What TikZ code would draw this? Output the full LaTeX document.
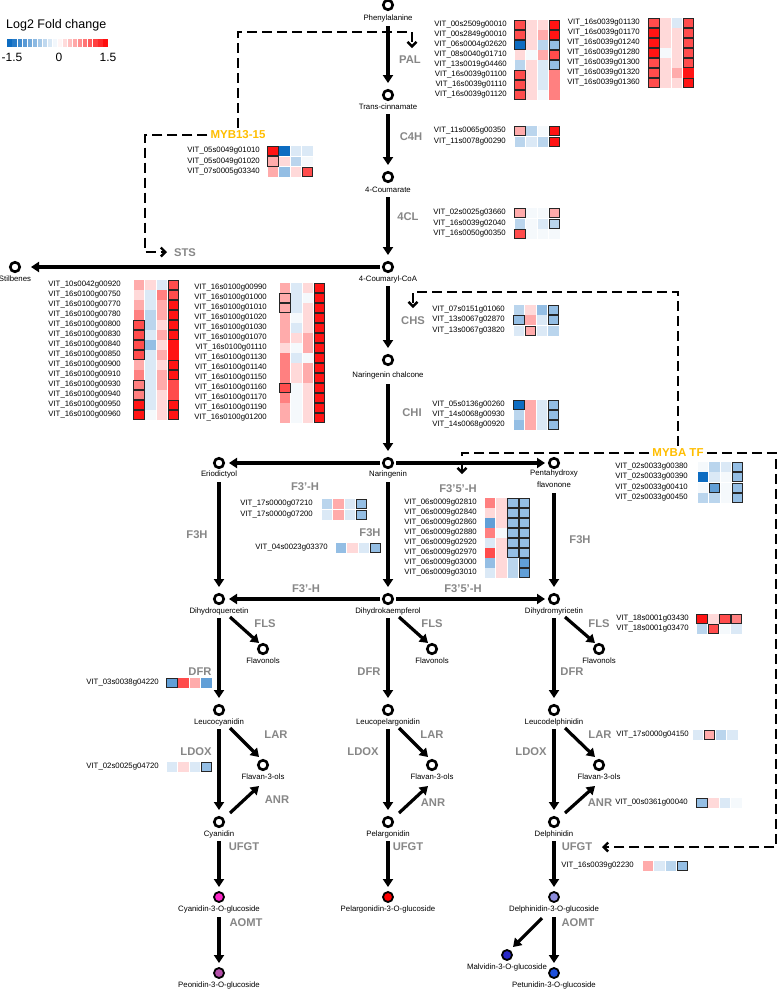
\documentclass[tikz,border=0pt]{standalone}
\usepackage{fontspec}
\setmainfont{Liberation Sans}
\usetikzlibrary{arrows.meta,calc}
\pgfdeclarelayer{bg}
\pgfsetlayers{bg,main}
\definecolor{blueb}{RGB}{0,100,190}
\colorlet{R3}{red!92!white}
\colorlet{R2}{red!70!white}
\colorlet{R1}{red!50!white}
\colorlet{R0}{red!33!white}
\colorlet{RL}{red!15!white}
\colorlet{W}{blueb!4!white}
\colorlet{BL}{blueb!14!white}
\colorlet{B0}{blueb!27!white}
\colorlet{B1}{blueb!42!white}
\colorlet{B2}{blueb!62!white}
\colorlet{B3}{blueb!95!white}
\definecolor{enzgray}{RGB}{135,135,135}
\definecolor{tforange}{RGB}{255,190,0}
\definecolor{cyacol}{RGB}{250,40,200}
\definecolor{peocol}{RGB}{180,80,170}
\definecolor{pelcol}{RGB}{255,0,0}
\definecolor{delcol}{RGB}{140,140,220}
\definecolor{malcol}{RGB}{40,40,200}
\definecolor{petcol}{RGB}{30,80,220}
\def\cw{11.6}
\newcommand\genrow[5]{%
  \node[gname] (g#4) at (#1,#3) {VIT\_#4};
  \foreach \cc/\oo [count=\ii from 0] in {#5}{%
    \fill[fill=\cc] (#2+\ii*\cw+0.6,#3-4.6) rectangle (#2+\ii*\cw+\cw-0.6,#3+4.6);}
  \foreach \cc/\oo [count=\ii from 0] in {#5}{%
    \ifnum\oo=1 \draw[cellbox] (#2+\ii*\cw+0.6,#3-4.6) rectangle (#2+\ii*\cw+\cw-0.6,#3+4.6);\fi}
}
\newcommand\cpd[5]{%
  \node[cnode] (#1) at (#2,#3) {};
  \node[clabel] (#1-l) at (#2,#3+#5) {#4};
}
\newcommand\glc[5]{%
  \node[gnode, fill=#5] (#1) at (#2,#3) {};
  \node[clabel] (#1-l) at (#2,#3+12) {#4};
}
\begin{document}
\begin{tikzpicture}[x=1pt,y=-1pt,
  gname/.style={font=\fontsize{7.8}{9}\selectfont, inner sep=0, anchor=east},
  clabel/.style={font=\fontsize{7.8}{9}\selectfont, inner sep=0},
  enz/.style={font=\bfseries\fontsize{11.2}{12}\selectfont, text=enzgray, inner sep=0},
  tf/.style={font=\bfseries\fontsize{11.5}{12}\selectfont, text=tforange, inner sep=3pt},
  legt/.style={font=\fontsize{12}{13}\selectfont, inner sep=0},
  cnode/.style={circle, draw=black, line width=2.6pt, fill=white, minimum size=9.5pt, inner sep=0},
  gnode/.style={circle, draw=black, line width=1.8pt, minimum size=10pt, inner sep=0},
  cellbox/.style={draw=black!85, line width=0.9pt},
  arr/.style={line width=3.2pt, -{Triangle[length=8pt,width=10pt]}},
  darr/.style={line width=2.4pt, dash pattern=on 10pt off 5pt, -{Straight Barb[length=4.5pt,width=9pt]}}]
\useasboundingbox (0,0) rectangle (778,989);
\begin{pgfonlayer}{bg}
\fill[white] (0,0) rectangle (778,989);
\end{pgfonlayer}

% ---------- legend
\node[font=\fontsize{12.5}{14}\selectfont, anchor=west, inner sep=0] (leg) at (6,25) {Log2 Fold change};
\foreach \i in {0,...,19}{%
  \pgfmathsetmacro\v{((\i+0.5)/20)*2-1}
  \pgfmathtruncatemacro\p{abs(\v)*100}
  \ifdim\v pt<0pt
    \fill[blueb!\p!white] (7+\i*5.05+0.4,39) rectangle (7+\i*5.05+5.05-0.4,47);
  \else
    \fill[red!\p!white] (7+\i*5.05+0.4,39) rectangle (7+\i*5.05+5.05-0.4,47);
  \fi
}
\node[legt] (lg1) at (12,57) {-1.5};
\node[legt] (lg2) at (59,57) {0};
\node[legt] (lg3) at (108,57) {1.5};

% ---------- compounds
\cpd{phe}{388}{5}{Phenylalanine}{13}
\cpd{tc}{388}{95}{Trans-cinnamate}{12}
\cpd{cou}{388}{177}{4-Coumarate}{13}
\cpd{coa}{388}{267}{4-Coumaryl-CoA}{12}
\cpd{stil}{15}{267}{Stilbenes}{12}
\cpd{nch}{388}{360}{Naringenin chalcone}{15}
\cpd{nar}{388}{463}{Naringenin}{11.5}
\cpd{erio}{219}{463}{Eriodictyol}{11.5}
\node[cnode] (penta) at (554,463) {};
\node[clabel, align=center, font=\fontsize{7.8}{12}\selectfont] (penta-l) at (554,479) {Pentahydroxy\\flavonone};
\cpd{dq}{219}{599}{Dihydroquercetin}{12}
\cpd{dk}{388}{599}{Dihydrokaempferol}{12}
\cpd{dm}{554}{599}{Dihydromyricetin}{12}
\cpd{fla}{263}{649}{Flavonols}{12}
\cpd{flb}{432}{649}{Flavonols}{12}
\cpd{flc}{599}{649}{Flavonols}{12}
\cpd{lc}{219}{710}{Leucocyanidin}{12}
\cpd{lp}{388}{710}{Leucopelargonidin}{12}
\cpd{ld}{554}{710}{Leucodelphinidin}{12}
\cpd{fta}{263}{765}{Flavan-3-ols}{12}
\cpd{ftb}{432}{765}{Flavan-3-ols}{12}
\cpd{ftc}{599}{765}{Flavan-3-ols}{12}
\cpd{cy}{219}{822}{Cyanidin}{12}
\cpd{pe}{388}{822}{Pelargonidin}{12}
\cpd{de}{554}{822}{Delphinidin}{12}
\glc{cyg}{219}{897}{Cyanidin-3-O-glucoside}{cyacol}
\glc{peg}{388}{897}{Pelargonidin-3-O-glucoside}{pelcol}
\glc{deg}{554}{897}{Delphinidin-3-O-glucoside}{delcol}
\glc{peo}{219}{973}{Peonidin-3-O-glucoside}{peocol}
\glc{mal}{507}{955}{Malvidin-3-O-glucoside}{malcol}
\glc{pet}{554}{973}{Petunidin-3-O-glucoside}{petcol}

% ---------- enzyme labels
\node[enz] (e-pal) at (410,60) {PAL};
\node[enz] (e-c4h) at (411,137) {C4H};
\node[enz] (e-4cl) at (408,217) {4CL};
\node[enz] (e-sts) at (185,253) {STS};
\node[enz] (e-chs) at (413,321) {CHS};
\node[enz] (e-chi) at (412,413) {CHI};
\node[enz] (e-f3ha) at (305,487) {F3'-H};
\node[enz] (e-f35a) at (458,489) {F3'5'-H};
\node[enz] (e-f3hl) at (197,535) {F3H};
\node[enz] (e-f3hm) at (370,533) {F3H};
\node[enz] (e-f3hr) at (580,540) {F3H};
\node[enz] (e-f3hb) at (306,589) {F3'-H};
\node[enz] (e-f35b) at (463,589) {F3'5'-H};
\node[enz] (e-flsa) at (265,624) {FLS};
\node[enz] (e-flsb) at (432,624) {FLS};
\node[enz] (e-flsc) at (599,624) {FLS};
\node[enz] (e-dfra) at (200,672) {DFR};
\node[enz] (e-dfrb) at (369,672) {DFR};
\node[enz] (e-dfrc) at (572,672) {DFR};
\node[enz] (e-lara) at (276,735) {LAR};
\node[enz] (e-larb) at (432,735) {LAR};
\node[enz] (e-larc) at (600,735) {LAR};
\node[enz] (e-ldxa) at (196,752) {LDOX};
\node[enz] (e-ldxb) at (363,752) {LDOX};
\node[enz] (e-ldxc) at (531,752) {LDOX};
\node[enz] (e-anra) at (277,800) {ANR};
\node[enz] (e-anrb) at (433,803) {ANR};
\node[enz] (e-anrc) at (600,803) {ANR};
\node[enz] (e-ufa) at (244,847) {UFGT};
\node[enz] (e-ufb) at (408,847) {UFGT};
\node[enz] (e-ufc) at (577,847) {UFGT};
\node[enz] (e-aoa) at (246,923) {AOMT};
\node[enz] (e-aoc) at (578,923) {AOMT};

% ---------- transcription factors
\node[tf] (myb) at (238,135) {MYB13-15};
\node[tf] (myba) at (678,453) {MYBA TF};

% ---------- dashed regulation lines
\coordinate (m1) at (238,32);
\coordinate (m2) at (412,32);
\coordinate (m3) at (412,48);
\coordinate (m4) at (145,135);
\coordinate (m5) at (145,252);
\coordinate (m6) at (167,252);
\coordinate (a1) at (678,292);
\coordinate (a2) at (413,292);
\coordinate (a3) at (413,308);
\coordinate (a4) at (462,453);
\coordinate (a5) at (462,474);
\coordinate (a6) at (776,453);
\coordinate (a7) at (776,847);
\coordinate (a8) at (602,847);
\begin{pgfonlayer}{bg}
\draw[darr] (myb.north) -- (m1) -- (m2) -- (m3);
\draw[darr] (myb.west) -- (m4) -- (m5) -- (m6);
\draw[darr] (myba.north) -- (a1) -- (a2) -- (a3);
\draw[darr] (myba.west) -- (a4) -- (a5);
\draw[darr] (myba.east) -- (a6) -- (a7) -- (a8);
\end{pgfonlayer}

% ---------- main arrows
\draw[arr] ($(phe)+(0,21)$) -- ($(tc)+(0,-12)$);
\draw[arr] ($(tc)+(0,19)$) -- ($(cou)+(0,-12)$);
\draw[arr] ($(cou)+(0,20)$) -- ($(coa)+(0,-12)$);
\draw[arr] ($(coa)+(-8,0)$) -- ($(stil)+(16,0)$);
\draw[arr] ($(coa)+(0,19)$) -- ($(nch)+(0,-12)$);
\draw[arr] ($(nch)+(0,24)$) -- ($(nar)+(0,-12)$);
\draw[arr] ($(nar)+(-8,0)$) -- ($(erio)+(10,0)$);
\draw[arr] ($(nar)+(8,0)$) -- ($(penta)+(-9,0)$);
\draw[arr] ($(nar)+(0,19)$) -- ($(dk)+(0,-12)$);
\draw[arr] ($(erio)+(0,19)$) -- ($(dq)+(0,-12)$);
\draw[arr] ($(penta)+(0,30)$) -- ($(dm)+(0,-12)$);
\draw[arr] ($(dk)+(-8,0)$) -- ($(dq)+(10,0)$);
\draw[arr] ($(dk)+(8,0)$) -- ($(dm)+(-9,0)$);
\draw[arr] ($(dq)+(11,18)$) -- ($(fla)+(-4,-6)$);
\draw[arr] ($(dk)+(11,18)$) -- ($(flb)+(-4,-6)$);
\draw[arr] ($(dm)+(11,18)$) -- ($(flc)+(-4,-6)$);
\draw[arr] ($(dq)+(0,19)$) -- ($(lc)+(0,-12)$);
\draw[arr] ($(dk)+(0,19)$) -- ($(lp)+(0,-12)$);
\draw[arr] ($(dm)+(0,19)$) -- ($(ld)+(0,-12)$);
\draw[arr] ($(lc)+(11,18)$) -- ($(fta)+(-4,-8)$);
\draw[arr] ($(lp)+(11,18)$) -- ($(ftb)+(-4,-8)$);
\draw[arr] ($(ld)+(11,18)$) -- ($(ftc)+(-4,-8)$);
\draw[arr] ($(lc)+(0,19)$) -- ($(cy)+(0,-12)$);
\draw[arr] ($(lp)+(0,19)$) -- ($(pe)+(0,-12)$);
\draw[arr] ($(ld)+(0,19)$) -- ($(de)+(0,-12)$);
\draw[arr] ($(cy)+(11,-9)$) -- ($(fta)+(-4,21)$);
\draw[arr] ($(pe)+(11,-9)$) -- ($(ftb)+(-4,21)$);
\draw[arr] ($(de)+(11,-9)$) -- ($(ftc)+(-4,21)$);
\draw[arr] ($(cy)+(0,19)$) -- ($(cyg)+(0,-10)$);
\draw[arr] ($(pe)+(0,19)$) -- ($(peg)+(0,-10)$);
\draw[arr] ($(de)+(0,19)$) -- ($(deg)+(0,-10)$);
\draw[arr] ($(cyg)+(0,20)$) -- ($(peo)+(0,-10)$);
\draw[arr] ($(deg)+(0,20)$) -- ($(pet)+(0,-10)$);
\draw[arr] ($(deg)+(-12,21)$) -- ($(mal)+(6,-8)$);

% ---------- gene tables
% PAL
\genrow{507}{514}{25}{00s2509g00010}{R2/1,RL/0,RL/0,R3/1}
\genrow{507}{514}{35}{00s2849g00010}{R2/1,RL/0,R0/0,R3/1}
\genrow{507}{514}{45}{06s0004g02620}{B3/1,RL/0,B0/0,B1/1}
\genrow{507}{514}{55}{08s0040g01710}{RL/0,W/0,R0/0,R2/1}
\genrow{507}{514}{65}{13s0019g04460}{B0/0,RL/0,BL/0,B1/1}
\genrow{507}{514}{75}{16s0039g01100}{R2/1,RL/0,BL/0,R1/0}
\genrow{507}{514}{85}{16s0039g01110}{R2/1,RL/0,BL/0,R1/0}
\genrow{507}{514}{95}{16s0039g01120}{R2/1,RL/0,W/0,R1/0}
\genrow{640}{648}{23}{16s0039g01130}{R2/1,RL/0,BL/0,R2/1}
\genrow{640}{648}{33}{16s0039g01170}{R3/1,RL/0,RL/0,R2/1}
\genrow{640}{648}{43}{16s0039g01240}{R3/1,RL/0,RL/0,R2/1}
\genrow{640}{648}{53}{16s0039g01280}{R3/1,W/0,RL/0,R2/1}
\genrow{640}{648}{63}{16s0039g01300}{R2/1,RL/0,RL/0,R2/1}
\genrow{640}{648}{73}{16s0039g01320}{R2/1,RL/0,R0/0,R3/0}
\genrow{640}{648}{83}{16s0039g01360}{R2/1,RL/0,RL/0,R3/1}
% MYB13-15
\genrow{260}{267}{151}{05s0049g01010}{R3/1,B3/0,BL/0,BL/0}
\genrow{260}{267}{161.5}{05s0049g01020}{R0/1,RL/0,B0/0,W/0}
\genrow{260}{267}{172}{07s0005g03340}{R0/0,B1/0,RL/0,R2/1}
% C4H
\genrow{506}{514}{131}{11s0065g00350}{R0/1,B0/0,W/0,R3/1}
\genrow{506}{514}{142}{11s0078g00290}{B0/0,BL/0,B0/0,R3/1}
% 4CL
\genrow{506}{514}{213}{02s0025g03660}{R0/1,W/0,W/0,R0/1}
\genrow{506}{514}{224}{16s0039g02040}{B0/0,W/0,BL/0,B0/1}
\genrow{506}{514}{234}{16s0050g00350}{R2/1,W/0,W/0,W/0}
% STS left
\genrow{121}{133}{285}{10s0042g00920}{R0/0,RL/0,BL/0,R2/1}
\genrow{121}{133}{295}{16s0100g00750}{RL/0,BL/0,R1/0,R2/1}
\genrow{121}{133}{305}{16s0100g00770}{R0/0,BL/0,R0/0,R3/1}
\genrow{121}{133}{315}{16s0100g00780}{R1/0,B0/0,R0/0,R3/1}
\genrow{121}{133}{325}{16s0100g00800}{R2/1,B0/0,RL/0,R3/1}
\genrow{121}{133}{335}{16s0100g00830}{R2/1,BL/0,R0/0,R3/1}
\genrow{121}{133}{345}{16s0100g00840}{R2/1,B1/0,RL/0,R3/0}
\genrow{121}{133}{355}{16s0100g00850}{R2/1,BL/0,R0/0,R3/0}
\genrow{121}{133}{365}{16s0100g00900}{R0/0,BL/0,RL/0,R3/1}
\genrow{121}{133}{375}{16s0100g00910}{R1/0,BL/0,R0/0,R3/1}
\genrow{121}{133}{385}{16s0100g00930}{R1/1,BL/0,R0/0,R2/0}
\genrow{121}{133}{395}{16s0100g00940}{R1/1,BL/0,RL/0,R2/0}
\genrow{121}{133}{405}{16s0100g00950}{R3/1,BL/0,RL/0,R3/1}
\genrow{121}{133}{415}{16s0100g00960}{R3/1,W/0,RL/0,R3/1}
% STS right
\genrow{267}{279}{288}{16s0100g00990}{R0/0,BL/0,RL/0,R3/1}
\genrow{267}{279}{298}{16s0100g01000}{R0/1,BL/0,W/0,R3/1}
\genrow{267}{279}{308}{16s0100g01010}{R0/1,BL/0,RL/0,R3/1}
\genrow{267}{279}{318}{16s0100g01020}{R0/0,W/0,RL/0,R3/1}
\genrow{267}{279}{328}{16s0100g01030}{R0/0,BL/0,RL/0,R3/1}
\genrow{267}{279}{338}{16s0100g01070}{R0/0,RL/0,R0/0,R3/1}
\genrow{267}{279}{348}{16s0100g01110}{RL/0,W/0,R0/0,R3/1}
\genrow{267}{279}{358}{16s0100g01130}{R1/0,BL/0,W/0,R3/1}
\genrow{267}{279}{368}{16s0100g01140}{R1/0,RL/0,R0/0,R3/1}
\genrow{267}{279}{378}{16s0100g01150}{R1/0,RL/0,R0/0,R3/1}
\genrow{267}{279}{388}{16s0100g01160}{R2/1,W/0,RL/0,R3/1}
\genrow{267}{279}{398}{16s0100g01170}{R1/0,W/0,RL/0,R3/1}
\genrow{267}{279}{408}{16s0100g01190}{R0/0,W/0,RL/0,R3/1}
\genrow{267}{279}{418}{16s0100g01200}{R0/0,W/0,RL/0,R3/1}
% CHS
\genrow{505}{513}{310}{07s0151g01060}{B0/0,RL/0,B1/0,B1/1}
\genrow{505}{513}{320}{13s0067g02870}{B1/1,R0/0,BL/0,B1/1}
\genrow{505}{513}{331}{13s0067g03820}{BL/0,R0/1,BL/0,B0/0}
% CHI
\genrow{505}{513}{405}{05s0136g00260}{B3/1,R0/0,BL/0,B1/1}
\genrow{505}{513}{415}{14s0068g00930}{B0/0,R0/0,BL/0,B1/1}
\genrow{505}{513}{425}{14s0068g00920}{B1/0,R0/0,BL/0,B1/1}
% MYBA
\genrow{688}{697}{467}{02s0033g00380}{W/0,B0/0,BL/0,B1/1}
\genrow{688}{697}{477}{02s0033g00390}{B3/0,BL/0,W/0,B1/1}
\genrow{688}{697}{488}{02s0033g00410}{W/0,B2/1,W/0,B1/1}
\genrow{688}{697}{498}{02s0033g00450}{B0/0,B0/0,W/0,B1/1}
% F3'H
\genrow{313}{321}{504}{17s0000g07210}{B0/0,R0/0,BL/0,B1/1}
\genrow{313}{321}{515}{17s0000g07200}{BL/0,R0/0,BL/0,B1/1}
% F3H
\genrow{328}{335}{548}{04s0023g03370}{B1/0,RL/0,BL/0,B1/1}
% F3'5'H
\genrow{477}{484}{503}{06s0009g02810}{R1/0,RL/0,B1/1,B1/1}
\genrow{477}{484}{513}{06s0009g02840}{RL/0,RL/0,B1/1,B1/1}
\genrow{477}{484}{523}{06s0009g02860}{B2/0,RL/0,B1/1,B1/1}
\genrow{477}{484}{533}{06s0009g02880}{R1/0,W/0,B1/1,B1/1}
\genrow{477}{484}{543}{06s0009g02920}{BL/0,RL/0,B1/1,B1/1}
\genrow{477}{484}{553}{06s0009g02970}{R2/0,RL/0,B1/1,B1/1}
\genrow{477}{484}{563}{06s0009g03000}{B1/0,RL/0,B0/0,B2/1}
\genrow{477}{484}{573}{06s0009g03010}{BL/0,RL/0,B0/0,B2/1}
% FLS
\genrow{689}{696}{619}{18s0001g03430}{R3/1,RL/0,R2/1,R1/1}
\genrow{689}{696}{629}{18s0001g03470}{B0/0,R2/1,W/0,BL/0}
% DFR
\genrow{159}{166}{683}{03s0038g04220}{B2/1,R2/0,R0/0,B2/0}
% LDOX
\genrow{159}{166}{767}{02s0025g04720}{BL/0,RL/0,BL/0,B1/1}
% LAR
\genrow{689}{692}{735}{17s0000g04150}{BL/0,R0/1,B0/0,BL/0}
% ANR
\genrow{688}{696}{803}{00s0361g00040}{B1/1,RL/0,BL/0,W/0}
% UFGT
\genrow{634}{642}{866}{16s0039g02230}{R0/0,BL/0,B0/0,B1/1}
\end{tikzpicture}
\end{document}
